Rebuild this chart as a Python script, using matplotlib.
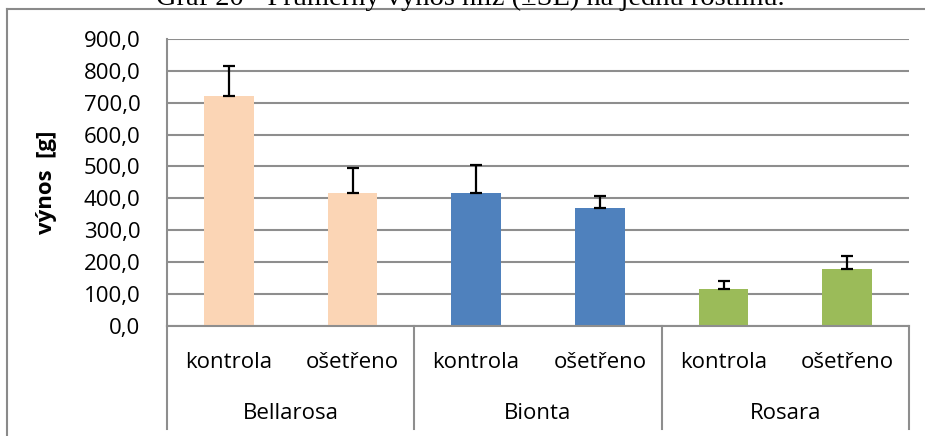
import matplotlib
matplotlib.use("Agg")
import matplotlib.pyplot as plt
import matplotlib.transforms as mtransforms
from matplotlib.lines import Line2D

# Data
varieties = ["Bellarosa", "Bionta", "Rosara"]
treatments = ["kontrola", "ošetřeno"]
means = [721.0, 416.0, 416.0, 370.0, 115.0, 178.0]
se = [94.0, 80.0, 88.0, 36.0, 25.0, 42.0]
yticks = [0, 100, 200, 300, 400, 500, 600, 700, 800, 900]
title = "Graf 20 - Průměrný výnos hlíz (±SE) na jednu rostlinu."
ylabel = "výnos  [g]"

colors = ["#FBD5B5", "#FBD5B5", "#4F81BD", "#4F81BD", "#9BBB59", "#9BBB59"]
grid_col = "#8E8E8E"
sans = ["Open Sans", "DejaVu Sans"]
fs = 16

W, H = 925, 436
fig = plt.figure(figsize=(W / 100, H / 100), dpi=100)
ax = fig.add_axes([167 / W, 1 - 325.7 / H, (909 - 167) / W, (325.7 - 39) / H])

x = list(range(len(means)))
ax.bar(x, means, width=0.4, color=colors, zorder=2)
ax.errorbar(x, means, yerr=[[0] * len(se), se], fmt="none", ecolor="black",
            elinewidth=1.6, capsize=4.3, capthick=1.6, zorder=3)

ax.set_xlim(-0.5, len(means) - 0.5)
ax.set_ylim(0, 900)
ax.set_yticks(yticks)
ax.set_yticklabels([f"{v:.1f}".replace(".", ",") for v in yticks],
                   fontsize=fs, family=sans)
ax.tick_params(axis="y", length=0, pad=19)
ax.yaxis.grid(True, color=grid_col, linewidth=1.5, zorder=0)
ax.set_axisbelow(True)
ax.set_xticks([])

for s in ["top", "right"]:
    ax.spines[s].set_visible(False)
for s in ["left", "bottom"]:
    ax.spines[s].set_color(grid_col)
    ax.spines[s].set_linewidth(1.5)

ax.set_ylabel(ylabel, fontsize=fs, fontweight="bold", family=sans, labelpad=2)
ax.yaxis.set_label_coords(-(167 - 57) / (909 - 167), 0.5)

# Two-level category axis
trans = mtransforms.blended_transform_factory(ax.transData, ax.transAxes)
px = 1 / (325.7 - 39)
for i, xi in enumerate(x):
    ax.text(xi, -(362 - 325.7) * px, treatments[i % 2], transform=trans,
            ha="center", va="center", fontsize=fs, family=sans)
for g, name in enumerate(varieties):
    ax.text(2 * g + 0.5, -(413 - 325.7) * px, name, transform=trans,
            ha="center", va="center", fontsize=fs, family=sans)
for b in [-0.5, 1.5, 3.5, 5.5]:
    ax.add_line(Line2D([b, b], [0, -(429 - 325.7) * px], transform=trans,
                       color=grid_col, linewidth=1.5, clip_on=False))

# Chart border (top and left edges)
fig.add_artist(Line2D([7 / W, 7 / W], [0, 1 - 9.5 / H], transform=fig.transFigure,
                      color="#8A8A8A", linewidth=1.5))
fig.add_artist(Line2D([7 / W, 1], [1 - 9.5 / H, 1 - 9.5 / H], transform=fig.transFigure,
                      color="#8A8A8A", linewidth=1.5))

fig.text(470 / W, 1 - 5 / H, title, ha="center", va="baseline",
         fontsize=20.5, family=["Liberation Serif", "DejaVu Serif"])

fig.savefig("out.png", dpi=100)
